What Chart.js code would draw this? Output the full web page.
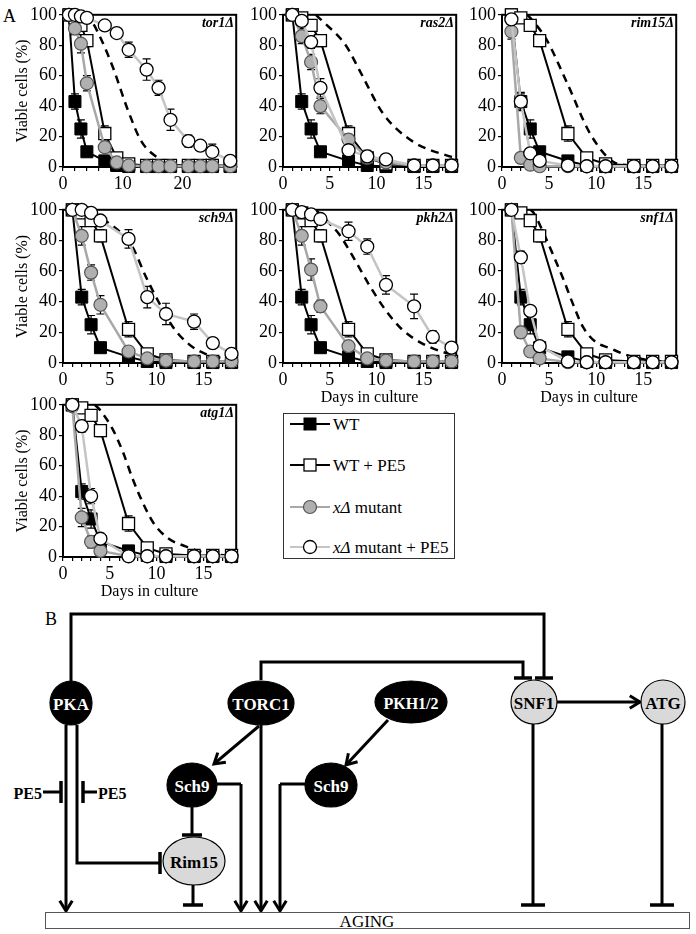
<!DOCTYPE html>
<html>
<head>
<meta charset="utf-8">
<script src="https://cdn.jsdelivr.net/npm/chart.js@4.4.1/dist/chart.umd.min.js"></script>
<style>
  body { margin: 0; background: #fff; width: 696px; height: 934px; position: relative; overflow: hidden;
         font-family: "Liberation Serif", "Times New Roman", serif; }
  canvas { position: absolute; }
  .plabel { position: absolute; font-weight: bold; font-style: italic; font-size: 14px; }
  .big { position: absolute; font-size: 18px; }
  #overlay { position: absolute; left: 0; top: 0; }
</style>
</head>
<body>
<div class="big" style="left:3px;top:6px">A</div>
<svg id="overlay" width="696" height="934"></svg>

<script>
const SERIF = "'Liberation Serif', 'Times New Roman', serif";

// sampling days
const days = [1, 2, 3, 4, 7, 9, 11, 14, 16, 18];
const daysTor1 = [1, 2, 3, 4, 7, 9, 11, 14, 16, 18, 21, 23, 25, 28];

// WT controls (same in every panel)
const wt = [100, 43, 25, 10, 4, 1, 0.3, 0.3, 0.3, 0.3];
const wtErr = [0, 5, 6, 2, 1.5, 1, 0, 0, 0, 0];
const wtPe5 = [100, 98, 93, 83, 22, 6, 2, 1, 1, 1];
const wtPe5Err = [0, 2, 3, 4, 5, 2, 1, 0, 0, 0];
const wtTor1 = [100, 43, 25, 10, 4, 1, 0.3, 0.3, 0.3, 0.3, 0.3, 0.3, 0.3, 0.3];
const wtTor1Err = [0, 5, 6, 2, 1.5, 1, 0, 0, 0, 0, 0, 0, 0, 0];
const wtPe5Tor1 = [100, 98, 93, 83, 22, 6, 2, 1, 1, 1, 1, 1, 1, 1];
const wtPe5Tor1Err = [0, 2, 3, 4, 5, 2, 1, 0, 0, 0, 0, 0, 0, 0];

// tor1
const tor1Mut = [100, 91, 81, 55, 13, 3, 1, 0.5, 0.5, 0.5, 0.5, 0.5, 0.5, 0.5];
const tor1MutErr = [0, 4, 6, 5, 3, 1, 0, 0, 0, 0, 0, 0, 0, 0];
const tor1Pe5 = [100, 100, 99, 98, 93, 88, 77, 64, 52, 31, 17, 14, 10, 4];
const tor1Pe5Err = [0, 0, 1, 1, 3, 2, 5, 7, 5, 7, 4, 3, 5, 2];
const tor1DashX = [3.5, 4.6, 6.5, 8.4, 10.9, 13.1, 15.9, 18, 21];
const tor1DashY = [100, 97, 83, 65, 37, 17, 6, 2, 0.5];

// ras2
const ras2Mut = [100, 86, 69, 40, 18, 6, 3, 1, 1, 1];
const ras2MutErr = [0, 5, 5, 5, 3, 2, 1, 0, 0, 0];
const ras2Pe5 = [100, 96, 82, 52, 11, 7, 5, 1, 1, 1];
const ras2Pe5Err = [0, 2, 4, 6, 2, 4, 2, 0, 0, 0];
const ras2DashX = [3.5, 4.2, 6.7, 8.3, 10.7, 13.8, 17.8, 18.4];
const ras2DashY = [100, 96, 80, 62, 35, 17, 7, 6];

// rim15
const rim15Mut = [89, 6, 1.5, 0.5, 0.5, 0.5, 0.5, 0.5, 0.5, 0.5];
const rim15MutErr = [5, 2, 1, 0, 0, 0, 0, 0, 0, 0];
const rim15Pe5 = [97, 43, 9, 4, 1, 0.5, 0.5, 0.5, 0.5, 0.5];
const rim15Pe5Err = [2, 6, 3, 2, 0, 0, 0, 0, 0, 0];
const rim15DashX = [2.7, 3, 4.7, 7, 9.35, 11.8, 13.6, 15];
const rim15DashY = [100, 98, 84, 54, 22, 3.5, 1, 0.5];

// sch9
const sch9Mut = [100, 83, 59, 38, 7.5, 3, 1.5, 1, 1, 1];
const sch9MutErr = [0, 6, 5, 6, 2, 1, 0, 0, 0, 0];
const sch9Pe5 = [100, 100, 98, 93, 81, 43, 32, 27, 13, 6];
const sch9Pe5Err = [0, 0, 1, 3, 6, 7, 7, 5, 3, 2];
const sch9DashX = [3, 4.5, 6, 7.4, 8.8, 10.2, 11.8, 13.5, 15.2, 18.2];
const sch9DashY = [100, 93, 86, 76, 57, 40, 23, 12, 6, 2];

// pkh2
const pkh2Mut = [100, 83, 61, 37, 11, 3, 1.5, 1, 1, 1];
const pkh2MutErr = [0, 6, 7, 4, 3, 1, 0, 0, 0, 0];
const pkh2Pe5 = [100, 98.5, 97, 94, 86, 76, 51, 37, 17, 10];
const pkh2Pe5Err = [0, 1, 2, 2, 6, 5, 6, 8, 4, 3];
const pkh2DashX = [3.5, 4.5, 6, 7.7, 9.1, 10.9, 12.7, 14.8, 16.9, 18.4];
const pkh2DashY = [100, 94, 84, 67, 52, 35, 22, 13, 7.5, 5];

// snf1
const snf1Mut = [100, 20, 7.5, 3, 0.5, 0.5, 0.5, 0.5, 0.5, 0.5];
const snf1MutErr = [0, 4, 3, 1, 0, 0, 0, 0, 0, 0];
const snf1Pe5 = [100, 69, 34, 11, 1, 0.5, 0.5, 0.5, 0.5, 0.5];
const snf1Pe5Err = [0, 4, 3, 2, 0, 0, 0, 0, 0, 0];
const snf1DashX = [3, 3.3, 4.4, 5.4, 6.5, 7.6, 8.6, 9.9, 11.5, 13.2, 15.4, 17];
const snf1DashY = [100, 98.5, 85, 71, 55, 37.5, 23.5, 14, 9.6, 5.3, 2, 1];

// atg1
const atg1Mut = [99, 26, 10, 4, 0.5, 0.5, 0.5, 0.5, 0.5, 0.5];
const atg1MutErr = [0, 6, 4, 1, 0, 0, 0, 0, 0, 0];
const atg1Pe5 = [100, 86, 40, 12, 0.5, 0.5, 0.5, 0.5, 0.5, 0.5];
const atg1Pe5Err = [0, 4, 5, 2, 0, 0, 0, 0, 0, 0];
const atg1DashX = [3.4, 3.9, 5.3, 6.4, 7.4, 8.5, 9.7, 11.3, 13.1, 15.2, 17.3];
const atg1DashY = [100, 97, 84, 69, 52, 36, 22, 12, 7, 2.6, 1];

// y tick values
const yTicks = [0, 10, 20, 30, 40, 50, 60, 70, 80, 90, 100];

// plot box positions on the page
const colLeft = [63, 283, 502], colRight = [238, 458, 678];
const rowTop = [12, 207, 402], rowBottom = [167, 363, 557];

const panels = [
  { name: 'tor1Δ', col: 0, row: 0, days: daysTor1, xMax: 29, major: 10, minor: 2, xTitle: false,
    wt: wtTor1, wtErr: wtTor1Err, wtPe5: wtPe5Tor1, wtPe5Err: wtPe5Tor1Err,
    mut: tor1Mut, mutErr: tor1MutErr, pe5: tor1Pe5, pe5Err: tor1Pe5Err, dashX: tor1DashX, dashY: tor1DashY },
  { name: 'ras2Δ', col: 1, row: 0, days: days, xMax: 18.5, major: 5, minor: 1, xTitle: false,
    wt: wt, wtErr: wtErr, wtPe5: wtPe5, wtPe5Err: wtPe5Err,
    mut: ras2Mut, mutErr: ras2MutErr, pe5: ras2Pe5, pe5Err: ras2Pe5Err, dashX: ras2DashX, dashY: ras2DashY },
  { name: 'rim15Δ', col: 2, row: 0, days: days, xMax: 18.5, major: 5, minor: 1, xTitle: false,
    wt: wt, wtErr: wtErr, wtPe5: wtPe5, wtPe5Err: wtPe5Err,
    mut: rim15Mut, mutErr: rim15MutErr, pe5: rim15Pe5, pe5Err: rim15Pe5Err, dashX: rim15DashX, dashY: rim15DashY },
  { name: 'sch9Δ', col: 0, row: 1, days: days, xMax: 18.5, major: 5, minor: 1, xTitle: false,
    wt: wt, wtErr: wtErr, wtPe5: wtPe5, wtPe5Err: wtPe5Err,
    mut: sch9Mut, mutErr: sch9MutErr, pe5: sch9Pe5, pe5Err: sch9Pe5Err, dashX: sch9DashX, dashY: sch9DashY },
  { name: 'pkh2Δ', col: 1, row: 1, days: days, xMax: 18.5, major: 5, minor: 1, xTitle: true,
    wt: wt, wtErr: wtErr, wtPe5: wtPe5, wtPe5Err: wtPe5Err,
    mut: pkh2Mut, mutErr: pkh2MutErr, pe5: pkh2Pe5, pe5Err: pkh2Pe5Err, dashX: pkh2DashX, dashY: pkh2DashY },
  { name: 'snf1Δ', col: 2, row: 1, days: days, xMax: 18.5, major: 5, minor: 1, xTitle: true,
    wt: wt, wtErr: wtErr, wtPe5: wtPe5, wtPe5Err: wtPe5Err,
    mut: snf1Mut, mutErr: snf1MutErr, pe5: snf1Pe5, pe5Err: snf1Pe5Err, dashX: snf1DashX, dashY: snf1DashY },
  { name: 'atg1Δ', col: 0, row: 2, days: days, xMax: 18.5, major: 5, minor: 1, xTitle: true,
    wt: wt, wtErr: wtErr, wtPe5: wtPe5, wtPe5Err: wtPe5Err,
    mut: atg1Mut, mutErr: atg1MutErr, pe5: atg1Pe5, pe5Err: atg1Pe5Err, dashX: atg1DashX, dashY: atg1DashY }
];

// box round the plot area
const frame = {
  id: 'frame',
  beforeDatasetsDraw(chart) {
    const { ctx, chartArea: a } = chart;
    ctx.save();
    ctx.strokeStyle = '#000';
    ctx.lineWidth = 2;
    ctx.strokeRect(a.left, a.top, a.right - a.left, a.bottom - a.top);
    ctx.restore();
  }
};

// error bars from ds.errors
const errorBars = {
  id: 'errorBars',
  beforeDatasetsDraw(chart) {
    const { ctx, scales: { x, y } } = chart;
    ctx.save();
    ctx.strokeStyle = '#000';
    ctx.lineWidth = 1.2;
    chart.data.datasets.forEach(ds => {
      if (!ds.errors) return;
      ds.data.forEach((pt, j) => {
        const e = ds.errors[j];
        if (!e) return;
        const px = x.getPixelForValue(pt.x);
        const top = y.getPixelForValue(Math.min(pt.y + e, 100));
        const bot = y.getPixelForValue(Math.max(pt.y - e, 0));
        ctx.beginPath();
        ctx.moveTo(px, top); ctx.lineTo(px, bot);
        ctx.moveTo(px - 4, top); ctx.lineTo(px + 4, top);
        ctx.moveTo(px - 4, bot); ctx.lineTo(px + 4, bot);
        ctx.stroke();
      });
    });
    ctx.restore();
  }
};

const pts = (xs, ys) => xs.map((x, i) => ({ x: x, y: ys[i] }));

function makePanel(p) {
  const left = colLeft[p.col] - 63, top = rowTop[p.row] - 10;
  const cv = document.createElement('canvas');
  cv.width = colRight[p.col] - colLeft[p.col] + 71;
  cv.height = rowBottom[p.row] - rowTop[p.row] + 55;
  cv.style.left = left + 'px';
  cv.style.top = top + 'px';
  document.body.appendChild(cv);

  const lab = document.createElement('div');
  lab.className = 'plabel';
  lab.textContent = p.name;
  lab.style.right = (696 - colRight[p.col] + 4) + 'px';
  lab.style.top = (rowTop[p.row] + 3) + 'px';
  document.body.appendChild(lab);

  const xTicks = [];
  for (let v = 0; v <= p.xMax; v += p.minor) xTicks.push(v);

  const tickFont = { family: SERIF, size: 18 };
  const titleFont = { family: SERIF, size: 16 };
  const gridOpts = { drawOnChartArea: false, drawTicks: true, tickLength: 4, color: '#000', lineWidth: 1.2 };

  new Chart(cv, {
    type: 'line',
    data: {
      datasets: [
        { label: 'WT', data: pts(p.days, p.wt), errors: p.wtErr, borderColor: '#000', borderWidth: 2,
          pointStyle: 'rect', pointRadius: 8.5, pointBackgroundColor: '#000', pointBorderColor: '#000',
          pointBorderWidth: 1, order: 4, clip: false },
        { label: 'WT + PE5', data: pts(p.days, p.wtPe5), errors: p.wtPe5Err, borderColor: '#000', borderWidth: 2,
          pointStyle: 'rect', pointRadius: 8.5, pointBackgroundColor: '#fff', pointBorderColor: '#000',
          pointBorderWidth: 1.3, order: 3, clip: false },
        { label: 'mutant', data: pts(p.days, p.mut), errors: p.mutErr, borderColor: '#a8a8a8', borderWidth: 2.5,
          pointStyle: 'circle', pointRadius: 6.5, pointBackgroundColor: '#b0b0b0', pointBorderColor: '#555',
          pointBorderWidth: 1.2, order: 2, clip: false },
        { label: 'mutant + PE5', data: pts(p.days, p.pe5), errors: p.pe5Err, borderColor: '#c4c4c4', borderWidth: 2.5,
          pointStyle: 'circle', pointRadius: 6.5, pointBackgroundColor: '#fff', pointBorderColor: '#000',
          pointBorderWidth: 1.3, order: 1, clip: false },
        { label: 'dash', data: pts(p.dashX, p.dashY), borderColor: '#000', borderWidth: 2.5, borderDash: [8, 6],
          pointRadius: 0, cubicInterpolationMode: 'monotone', order: 5 }
      ]
    },
    options: {
      responsive: false,
      animation: false,
      events: [],
      layout: { padding: { left: 0, right: 8, top: 10, bottom: 0 } },
      plugins: { legend: { display: false }, tooltip: { enabled: false } },
      scales: {
        x: {
          type: 'linear', min: 0, max: p.xMax,
          afterBuildTicks: s => { s.ticks = xTicks.map(v => ({ value: v })); },
          afterFit: s => { s.height = 45; },
          ticks: { autoSkip: false, maxRotation: 0, color: '#000', font: tickFont, padding: 2,
                   callback: v => (v % p.major === 0 ? String(v) : '') },
          grid: gridOpts,
          border: { color: '#000', width: 2 },
          title: { display: p.xTitle, text: 'Days in culture', color: '#000', font: titleFont,
                   padding: { top: 0, bottom: 1 } }
        },
        y: {
          min: 0, max: 100,
          afterBuildTicks: s => { s.ticks = yTicks.map(v => ({ value: v })); },
          afterFit: s => { s.width = 63; },
          ticks: { color: '#000', font: tickFont, padding: 2,
                   callback: v => (v % 20 === 0 ? String(v) : '') },
          grid: gridOpts,
          border: { color: '#000', width: 2 },
          title: { display: p.col === 0, text: 'Viable cells (%)', color: '#000', font: titleFont,
                   padding: { top: 13, bottom: 0 } }
        }
      }
    },
    plugins: [frame, errorBars]
  });
}

panels.forEach(makePanel);

// ---- legend and diagram (SVG overlay) ----
const svg = document.getElementById('overlay');
const NS = 'http://www.w3.org/2000/svg';
function el(tag, attrs, text) {
  const e = document.createElementNS(NS, tag);
  for (const k in attrs) e.setAttribute(k, attrs[k]);
  if (text !== undefined) e.textContent = text;
  svg.appendChild(e);
  return e;
}
function line(d, w) {
  el('path', { d: d, stroke: '#000', 'stroke-width': w || 3, fill: 'none' });
}
function arrow(x1, y1, x2, y2) {
  line(`M${x1},${y1} L${x2},${y2}`);
  const a = Math.atan2(y2 - y1, x2 - x1), L = 12, s = 0.55;
  const ax = x2 - L * Math.cos(a - s), ay = y2 - L * Math.sin(a - s);
  const bx = x2 - L * Math.cos(a + s), by = y2 - L * Math.sin(a + s);
  line(`M${ax},${ay} L${x2},${y2} L${bx},${by}`, 3);
}
function hbar(cx, y, half) { line(`M${cx - half},${y} L${cx + half},${y}`, 3.5); }
function vbar(x, cy, half) { line(`M${x},${cy - half} L${x},${cy + half}`, 3.5); }

// legend
el('rect', { x: 283.5, y: 413.5, width: 171, height: 145, fill: '#fff', stroke: '#333', 'stroke-width': 1 });
const legendY = [424, 465, 507, 547];
line(`M290,${legendY[0]} L330,${legendY[0]}`, 2);
el('rect', { x: 304, y: legendY[0] - 6, width: 12, height: 12, fill: '#000', stroke: '#000' });
line(`M290,${legendY[1]} L330,${legendY[1]}`, 2);
el('rect', { x: 304, y: legendY[1] - 6, width: 12, height: 12, fill: '#fff', stroke: '#000', 'stroke-width': 1.3 });
el('path', { d: `M290,${legendY[2]} L330,${legendY[2]}`, stroke: '#a8a8a8', 'stroke-width': 2 });
el('circle', { cx: 310, cy: legendY[2], r: 6.5, fill: '#b0b0b0', stroke: '#555', 'stroke-width': 1.2 });
el('path', { d: `M290,${legendY[3]} L330,${legendY[3]}`, stroke: '#c4c4c4', 'stroke-width': 2 });
el('circle', { cx: 310, cy: legendY[3], r: 6.5, fill: '#fff', stroke: '#000', 'stroke-width': 1.3 });
const lt = { x: 333, 'font-family': SERIF, 'font-size': 17, 'dominant-baseline': 'central', fill: '#000' };
el('text', Object.assign({ y: legendY[0] }, lt), 'WT');
el('text', Object.assign({ y: legendY[1] }, lt), 'WT + PE5');
let t = el('text', Object.assign({ y: legendY[2] }, lt));
t.innerHTML = '<tspan font-style="italic">xΔ</tspan> mutant';
t = el('text', Object.assign({ y: legendY[3] }, lt));
t.innerHTML = '<tspan font-style="italic">xΔ</tspan> mutant + PE5';

// panel B
el('text', { x: 45, y: 625, 'font-family': SERIF, 'font-size': 18 }, 'B');

// long inhibition lines to SNF1
line('M71,681 L71,614 L544,614 L544,678');
hbar(544, 678, 9);
line('M261,680 L261,662 L523,662 L523,678');
hbar(523, 678, 9);

arrow(557, 702, 640, 702);
line('M533,724 L533,905'); hbar(533, 905, 12);
line('M662,724 L662,905'); hbar(662, 905, 12);

arrow(66, 725, 66, 911);
line('M77,725 L77,863 L160,863'); vbar(160, 863, 11);
line('M43,792 L61,792'); vbar(61, 792, 11);
line('M83,792 L97,792'); vbar(83, 792, 11);

arrow(259, 726, 214, 764);
arrow(388, 720, 346, 765);
line('M192,807 L192,835'); hbar(192, 835, 10);
line('M193,885 L193,905'); hbar(193, 905, 10);
line('M217,784 L241,784'); arrow(241, 784, 241, 911);
arrow(261, 725, 261, 911);
line('M305,784 L280,784'); arrow(280, 784, 280, 911);

// AGING bar
el('rect', { x: 45.5, y: 912.5, width: 644, height: 16, fill: '#fff', stroke: '#555', 'stroke-width': 1 });
el('text', { x: 367, y: 921, 'font-family': SERIF, 'font-size': 17, 'text-anchor': 'middle', 'dominant-baseline': 'central' }, 'AGING');

// nodes
const nodes = [
  ['PKA', 71, 703, 21, 22, '#000', '#fff'],
  ['TORC1', 261, 703, 33, 22, '#000', '#fff'],
  ['PKH1/2', 411, 702, 36, 21, '#000', '#fff'],
  ['Sch9', 192, 785, 25, 22, '#000', '#fff'],
  ['Sch9', 331, 785, 26, 22, '#000', '#fff'],
  ['Rim15', 194, 861, 31, 24, '#d9d9d9', '#000'],
  ['SNF1', 534, 702, 23, 22, '#d9d9d9', '#000'],
  ['ATG', 663, 702, 22, 22, '#d9d9d9', '#000']
];
nodes.forEach(n => {
  el('ellipse', { cx: n[1], cy: n[2], rx: n[3], ry: n[4], fill: n[5], stroke: '#000', 'stroke-width': 1.2 });
  el('text', { x: n[1], y: n[2] + 1, 'font-family': SERIF, 'font-size': n[0] === 'PKH1/2' ? 16 : 17, 'font-weight': 'bold',
               'text-anchor': 'middle', 'dominant-baseline': 'central', fill: n[6] }, n[0]);
});
el('text', { x: 42, y: 793, 'font-family': SERIF, 'font-size': 16, 'font-weight': 'bold', 'text-anchor': 'end', 'dominant-baseline': 'central' }, 'PE5');
el('text', { x: 98, y: 793, 'font-family': SERIF, 'font-size': 16, 'font-weight': 'bold', 'dominant-baseline': 'central' }, 'PE5');
</script>
</body>
</html>
